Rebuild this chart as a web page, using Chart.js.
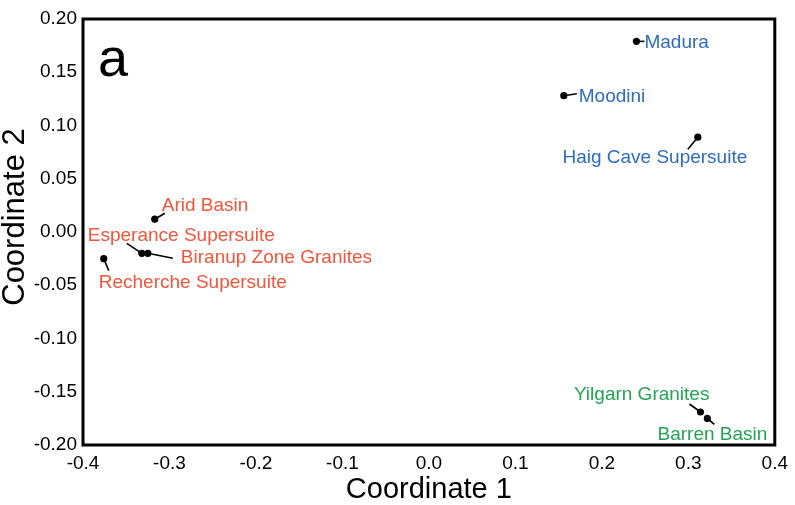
<!DOCTYPE html>
<html>
<head>
<meta charset="utf-8">
<script src="https://cdn.jsdelivr.net/npm/chart.js@4.4.1/dist/chart.umd.min.js"></script>
<style>
  html, body { margin: 0; padding: 0; background: #fff; }
  #wrap { width: 795px; height: 505px; }
</style>
</head>
<body>
<div id="wrap"><canvas id="nmds"></canvas></div>
<script>
// sample names, ordination coordinates and their group
const names = ["Madura", "Moodini", "Haig Cave Supersuite", "Arid Basin", "Esperance Supersuite",
  "Biranup Zone Granites", "Recherche Supersuite", "Yilgarn Granites", "Barren Basin"];
const coord1 = [0.240, 0.156, 0.311, -0.317, -0.332, -0.325, -0.376, 0.314, 0.322];
const coord2 = [0.179, 0.128, 0.089, 0.012, -0.020, -0.020, -0.025, -0.169, -0.175];
const groups = ["east", "east", "east", "south", "south", "south", "south", "west", "west"];

const xTicks = [-0.4, -0.3, -0.2, -0.1, 0.0, 0.1, 0.2, 0.3, 0.4];
const yTicks = [-0.20, -0.15, -0.10, -0.05, 0.00, 0.05, 0.10, 0.15, 0.20];

const groupColor = { east: "#2f6cbf", south: "#f2553a", west: "#23a453" };

// label placement (pixels, relative to the dot): text anchor + leader line end
const labelPos = {
  "Madura":                { align: "left",   tx: 8,   ty: 1,   lx: 8,   ly: 0 },
  "Moodini":               { align: "left",   tx: 15,  ty: 1,   lx: 13,  ly: -2 },
  "Haig Cave Supersuite":  { align: "center", tx: -43, ty: 21,  lx: -10, ly: 12 },
  "Arid Basin":            { align: "left",   tx: 7,   ty: -13, lx: 10,  ly: -6 },
  "Esperance Supersuite":  { align: "left",   tx: -54, ty: -18, lx: -15, ly: -10 },
  "Biranup Zone Granites": { align: "left",   tx: 33,  ty: 4,   lx: 25,  ly: 5 },
  "Recherche Supersuite":  { align: "left",   tx: -5,  ty: 24,  lx: 5,   ly: 12 },
  "Yilgarn Granites":      { align: "right",  tx: 9,   ty: -17, lx: -11, ly: -8 },
  "Barren Basin":          { align: "right",  tx: 60,  ty: 16,  lx: 7,   ly: 6 }
};

const font = "'Liberation Sans', Arial, sans-serif";

const points = names.map((n, i) => ({ x: coord1[i], y: coord2[i], name: n, group: groups[i] }));

const labelPlugin = {
  id: "labels",
  beforeDatasetsDraw(chart) {
    const ctx = chart.ctx;
    const meta = chart.getDatasetMeta(0);
    ctx.save();
    ctx.strokeStyle = "#000";
    ctx.lineWidth = 1.6;
    meta.data.forEach((el, i) => {
      const p = labelPos[names[i]];
      ctx.beginPath();
      ctx.moveTo(el.x, el.y);
      ctx.lineTo(el.x + p.lx, el.y + p.ly);
      ctx.stroke();
    });
    ctx.restore();
  },
  afterDatasetsDraw(chart) {
    const ctx = chart.ctx;
    const meta = chart.getDatasetMeta(0);
    const area = chart.chartArea;
    ctx.save();
    ctx.font = "19px " + font;
    ctx.textBaseline = "middle";
    meta.data.forEach((el, i) => {
      const p = labelPos[names[i]];
      ctx.fillStyle = groupColor[groups[i]];
      ctx.textAlign = p.align;
      ctx.fillText(names[i], el.x + p.tx, el.y + p.ty);
    });
    // panel letter
    ctx.fillStyle = "#000";
    ctx.textAlign = "left";
    ctx.textBaseline = "alphabetic";
    ctx.font = "54px " + font;
    ctx.fillText("a", area.left + 15, area.top + 57);
    // y axis title (sits a little above the middle of the axis)
    ctx.save();
    ctx.translate(24, (area.top + area.bottom) / 2 - 15);
    ctx.rotate(-Math.PI / 2);
    ctx.textAlign = "center";
    ctx.font = "31px " + font;
    ctx.fillText("Coordinate 2", 0, 0);
    ctx.restore();
    // frame
    ctx.strokeStyle = "#000";
    ctx.lineWidth = 3;
    ctx.strokeRect(area.left, area.top, area.right - area.left, area.bottom - area.top);
    ctx.restore();
  }
};

new Chart(document.getElementById("nmds"), {
  type: "scatter",
  data: {
    datasets: [{
      data: points,
      pointRadius: 3.6,
      pointHoverRadius: 3.6,
      pointBackgroundColor: "#000",
      pointBorderColor: "#000",
      pointBorderWidth: 0
    }]
  },
  options: {
    responsive: true,
    maintainAspectRatio: false,
    animation: false,
    events: [],
    layout: { padding: { left: 0, top: 19, right: 20, bottom: 0 } },
    plugins: { legend: { display: false }, tooltip: { enabled: false } },
    scales: {
      x: {
        type: "linear",
        min: xTicks[0],
        max: xTicks[xTicks.length - 1],
        afterFit: s => { s.height = 60; },
        afterBuildTicks: s => { s.ticks = xTicks.map(v => ({ value: v })); },
        grid: { display: false, drawTicks: false },
        border: { display: false },
        ticks: {
          padding: 7,
          color: "#000",
          font: { family: font, size: 19 },
          callback: v => v.toFixed(1)
        },
        title: {
          display: true,
          text: "Coordinate 1",
          color: "#000",
          padding: { top: 0, bottom: 1 },
          font: { family: font, size: 29, lineHeight: 1 }
        }
      },
      y: {
        type: "linear",
        min: yTicks[0],
        max: yTicks[yTicks.length - 1],
        afterFit: s => { s.width = 83; },
        afterBuildTicks: s => { s.ticks = yTicks.map(v => ({ value: v })); },
        grid: { display: false, drawTicks: false },
        border: { display: false },
        ticks: {
          padding: 6,
          color: "#000",
          font: { family: font, size: 19 },
          callback: v => v.toFixed(2)
        },
        title: { display: false }
      }
    }
  },
  plugins: [labelPlugin]
});
</script>
</body>
</html>
